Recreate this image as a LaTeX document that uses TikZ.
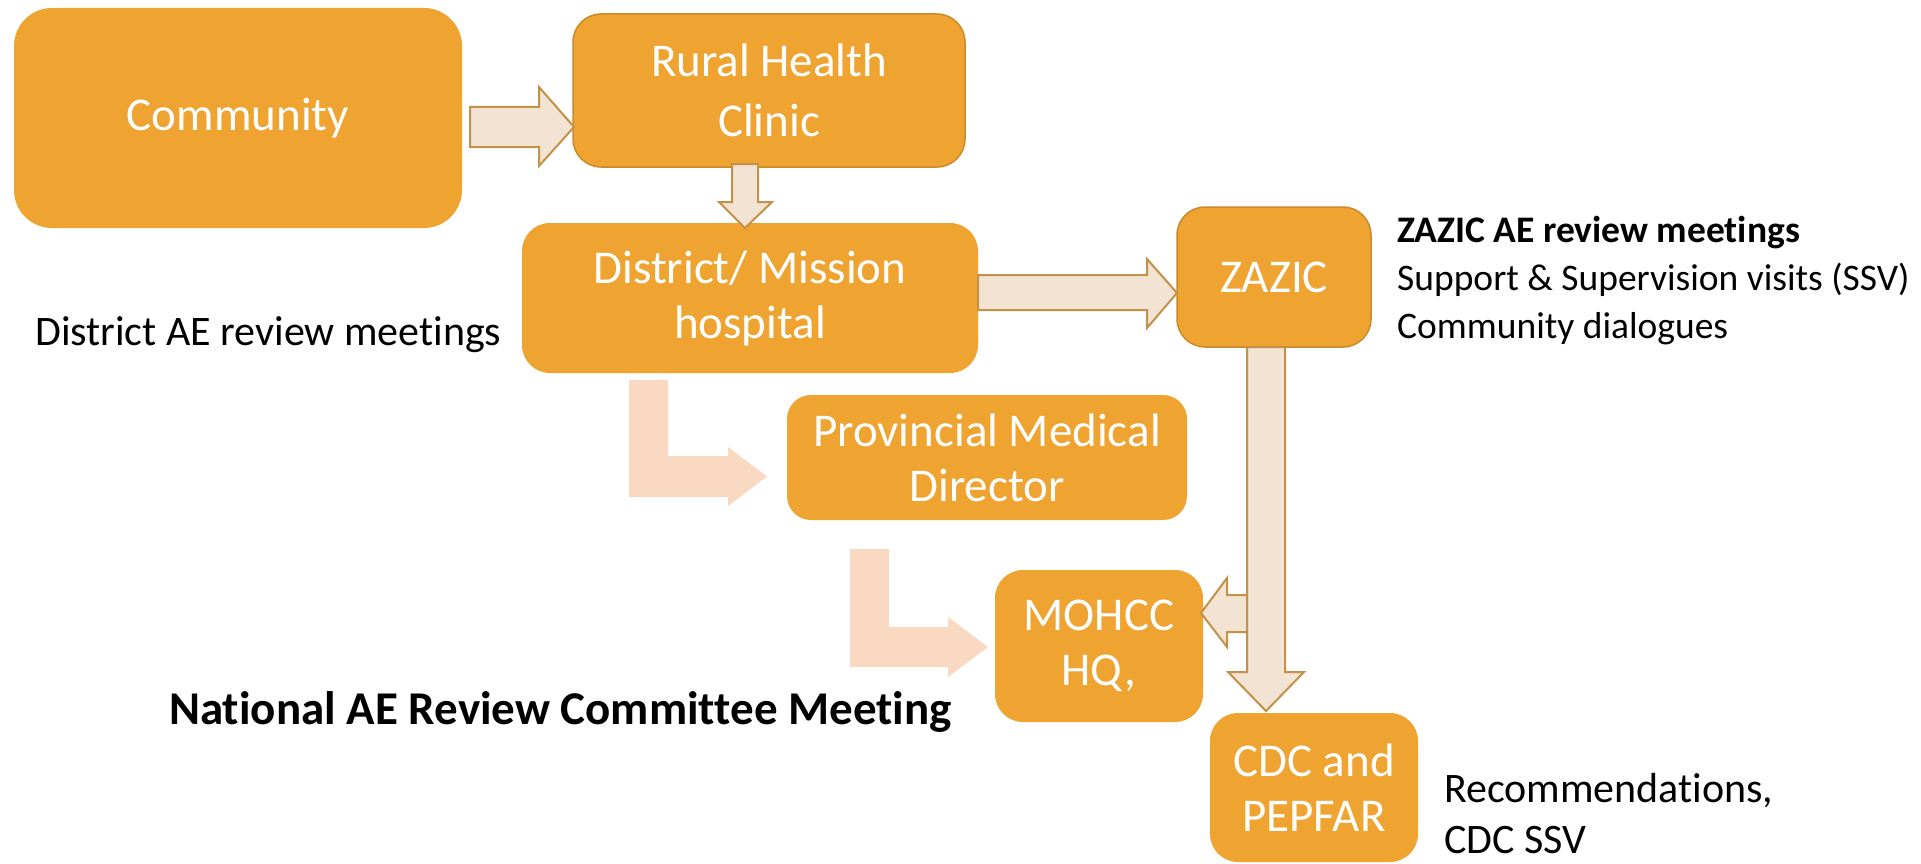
\documentclass[tikz,border=0pt]{standalone}
\usepackage{fontspec}
\setmainfont[RawFeature=-liga]{Carlito}
\definecolor{boxfill}{HTML}{EFA330}
\definecolor{boxline}{HTML}{C98B2C}
\definecolor{arrfill}{HTML}{F3E3D2}
\definecolor{arrline}{HTML}{C39148}
\definecolor{peach}{HTML}{F9D9C1}
\begin{document}
\begin{tikzpicture}[x=1pt,y=-1pt,
  box/.style={fill=boxfill, text=white, inner sep=0pt, align=center,
    font=\fontsize{47}{55}\selectfont, rounded corners=28pt},
  edged/.style={draw=boxline, line width=1.5pt},
  barrow/.style={fill=arrfill, draw=arrline, line width=2pt, line join=miter},
  larrow/.style={fill=peach},
  note/.style={anchor=base west, inner sep=0pt, text=black, font=\fontsize{42}{45}\selectfont},
  znote/.style={anchor=base west, inner sep=0pt, text=black, font=\fontsize{37.5}{48}\selectfont}]
\useasboundingbox (0,0) rectangle (1921,864);
\fill[white] (0,0) rectangle (1921,864);

% boxes
\node[box, rounded corners=38pt, minimum width=448pt, minimum height=220pt] (community) at (238,118) {Community};
\node[box, edged, minimum width=392pt, minimum height=153pt, font=\fontsize{47}{60}\selectfont] (rhc) at (769,90.5) {Rural Health\\Clinic};
\node[box, minimum width=456pt, minimum height=150pt] (dh) at (750,298) {District/ Mission\\hospital};
\node[box, edged, minimum width=194pt, minimum height=140pt] (zazic) at (1274,277) {ZAZIC};
\node[box, rounded corners=24pt, minimum width=400pt, minimum height=125pt] (pmd) at (987,457.5) {Provincial Medical\\Director};
\node[box, minimum width=208pt, minimum height=152pt] (mohcc) at (1099,646) {MOHCC\\HQ,};
\node[box, minimum width=208pt, minimum height=149pt] (cdc) at (1314,787.5) {CDC and\\PEPFAR};

% L-shaped light arrows
\path[larrow] (629,380) -- (668,380) -- (668,456) -- (728,456) -- (728,447) -- (767,476.5) -- (728,506) -- (728,497) -- (629,497) -- cycle;
\path[larrow] (850,549) -- (889,549) -- (889,627) -- (948,627) -- (948,617) -- (988,647) -- (948,677) -- (948,667) -- (850,667) -- cycle;

% block arrows
\draw[barrow] (470,107) -- (539,107) -- (539,87) -- (574,127) -- (539,166) -- (539,147) -- (470,147) -- cycle;
\draw[barrow] (732,164) -- (758,164) -- (758,202) -- (772,202) -- (745,228) -- (719,202) -- (732,202) -- cycle;
\draw[barrow] (978,275) -- (1147,275) -- (1147,259) -- (1177,293) -- (1147,328) -- (1147,310) -- (978,310) -- cycle;
\draw[barrow] (1252,595) -- (1227,595) -- (1227,578) -- (1201,613) -- (1227,647) -- (1227,632) -- (1252,632) -- cycle;
\draw[barrow] (1247,347) -- (1285,347) -- (1285,672) -- (1304,672) -- (1266,711) -- (1228,672) -- (1247,672) -- cycle;

% texts
\node[note] (dtext) at (35,345) {District AE review meetings};
\node[znote, font=\bfseries\fontsize{37.5}{48}\selectfont] (z1) at (1397,242) {ZAZIC AE review meetings};
\node[znote] (z2) at (1397,290) {Support \& Supervision visits (SSV)};
\node[znote] (z3) at (1397,338) {Community dialogues};
\node[note, font=\bfseries\fontsize{47}{55}\selectfont] (natl) at (169,724) {National AE Review Committee Meeting};
\node[note] (r1) at (1444,802) {Recommendations,};
\node[note] (r2) at (1444,853) {CDC SSV};
\end{tikzpicture}
\end{document}
